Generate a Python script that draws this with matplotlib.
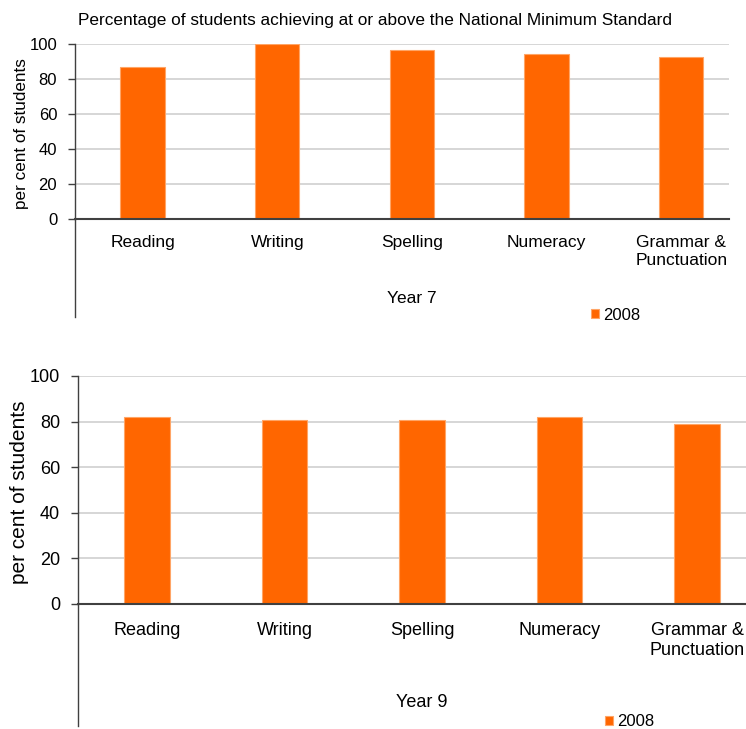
import matplotlib
matplotlib.use("Agg")
import matplotlib.pyplot as plt
from matplotlib.lines import Line2D

plt.rcParams['font.family'] = ['Liberation Sans', 'DejaVu Sans']

categories = ["Reading", "Writing", "Spelling", "Numeracy", "Grammar &\nPunctuation"]
year7_2008 = [86.6, 100.0, 96.4, 94.3, 92.5]
year9_2008 = [82.2, 80.6, 80.6, 82.2, 78.9]
yticks = [0, 20, 40, 60, 80, 100]
series_label = "2008"
title = "Percentage of students achieving at or above the National Minimum Standard"
ylabel = "per cent of students"

BAR = "#FF6600"
EDGE = "#FFA566"
GRID = "#D0D0D0"
AXIS = "#404040"

W, H = 746, 729
fig = plt.figure(figsize=(W / 100, H / 100), dpi=100)


def px_axes(left, top, right, bottom):
    return fig.add_axes([left / W, (H - bottom) / H, (right - left) / W, (bottom - top) / H])


def draw_panel(ax, values, year_text, tick_fs, label_fs, ylab_fs, ylab_x,
               year_y, spine_ext, legend_xy, xpad):
    x = range(len(categories))
    bars = ax.bar(x, values, width=0.33, color=BAR, edgecolor=EDGE,
                  linewidth=0.8, label=series_label, zorder=3)
    ax.set_xlim(-0.5, 4.355)
    ax.set_ylim(0, 100)
    ax.set_yticks(yticks)
    ax.set_yticklabels([str(t) for t in yticks], fontsize=tick_fs)
    ax.set_xticks(list(x))
    ax.set_xticklabels(categories, fontsize=label_fs, linespacing=1.2)
    ax.tick_params(axis='x', length=0, pad=xpad)
    ax.tick_params(axis='y', length=5, width=1, color=AXIS, pad=8)
    for t in yticks[1:]:
        ax.axhline(t, color=GRID, linewidth=1.2, zorder=1)
    ax.spines['top'].set_visible(False)
    ax.spines['right'].set_visible(False)
    ax.spines['left'].set_color(AXIS)
    ax.spines['bottom'].set_color(AXIS)
    ax.spines['bottom'].set_linewidth(1.5)
    ax.spines['left'].set_linewidth(1.0)
    ax.spines['bottom'].set_zorder(4)
    ax.add_line(Line2D([0, 0], [0, spine_ext], transform=ax.transAxes,
                       color=AXIS, linewidth=1.0, clip_on=False))
    ax.set_ylabel(ylabel, fontsize=ylab_fs, va='center')
    ax.yaxis.set_label_coords(ylab_x, 0.49)
    ax.annotate(year_text, xy=(2, year_y), xycoords=('data', 'axes fraction'),
                ha='center', va='center', fontsize=label_fs)
    ax.legend(handles=[bars], loc='center left', frameon=False,
              bbox_to_anchor=(legend_xy[0] / W, (H - legend_xy[1]) / H),
              bbox_transform=fig.transFigure, fontsize=12,
              handlelength=0.5, handleheight=0.5, handletextpad=0.25,
              borderpad=0, borderaxespad=0)


ax1 = px_axes(75.3, 44, 729, 219.3)
draw_panel(ax1, year7_2008, "Year 7", tick_fs=12, label_fs=12.5, ylab_fs=12.3,
           ylab_x=-0.082, year_y=-0.449, spine_ext=-0.556,
           legend_xy=(591, 315), xpad=11.5)

ax2 = px_axes(78.3, 376, 746, 604)
draw_panel(ax2, year9_2008, "Year 9", tick_fs=13, label_fs=13, ylab_fs=15,
           ylab_x=-0.088, year_y=-0.434, spine_ext=-0.535,
           legend_xy=(604.5, 722), xpad=13)

fig.text(375.5 / W, (H - 20) / H, title, ha='center', va='center', fontsize=12.4)

fig.savefig("out.png", dpi=100)
